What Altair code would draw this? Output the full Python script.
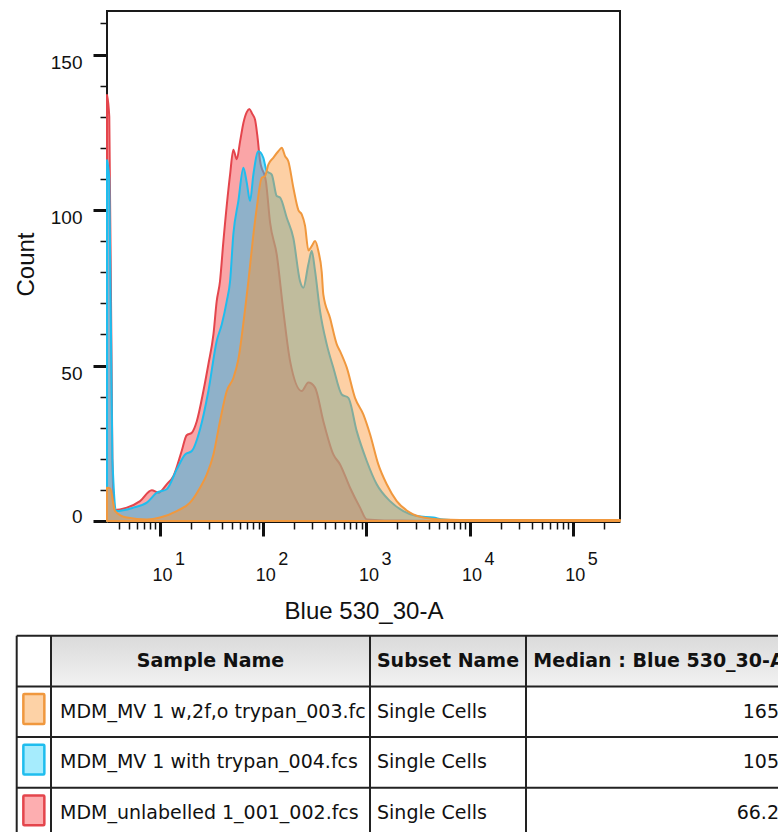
import altair as alt
import pandas as pd

# ---------------- data ----------------
SAMPLE_NAMES = [
    "MDM_MV 1 w,2f,o trypan_003.fcs",
    "MDM_MV 1 with trypan_004.fcs",
    "MDM_unlabelled 1_001_002.fcs",
]
SUBSET_NAMES = ["Single Cells", "Single Cells", "Single Cells"]
MEDIANS = ["165", "105", "66.2"]
HEADERS = ["Sample Name", "Subset Name", "Median : Blue 530_30-A"]

# histogram traces: channel value (Blue 530_30-A) and event count
ORANGE_X = [3.06, 3.28, 3.66, 4.76, 7.43, 10.0, 14.5, 19.5, 24.4, 28.4, 32.9, 38.1,
            44.3, 51.3, 57.4, 66.6, 71.7, 80.2, 86.5, 96.7, 104, 112, 125, 140, 151,
            163, 175, 196, 219, 236, 254, 274, 295, 318, 342, 369, 382, 444, 516,
            555, 645, 775, 933, 1084, 1304, 1573, 1966, 2646, 3560, 5166, 12600,
            286700]
ORANGE_Y = [10.7, 10.5, 3.2, 1.1, 0.5, 1.1, 3.2, 5.9, 10.7, 15.0, 21.4, 32.1,
            41.8, 46.0, 52.0, 68.0, 77.0, 92.0, 100.7, 110.4, 110.9, 114.6, 116.8,
            118.9, 120.0, 117.3, 115.7, 107.1, 100.0, 98.6, 95.0, 87.0, 88.4, 90.0,
            86.8, 80.0, 72.9, 65.3, 56.8, 54.6, 49.3, 39.6, 34.3, 27.9, 18.2, 11.8,
            6.4, 2.7, 1.1, 0.5, 0.3, 0.3]

BLUE_X = [3.06, 3.22, 3.45, 3.8, 5.51, 7.43, 9.29, 11.6, 14.5, 17.5, 20.3, 24.4,
          29.4, 35.4, 39.6, 44.3, 47.7, 51.3, 57.4, 64.2, 69.2, 74.5, 80.2, 89.7,
          100.2, 108.1, 120.9, 135.1, 145.5, 168.9, 195.7, 227.3, 244.7, 273.5,
          295.1, 317.7, 355.2, 412.5, 477.9, 576.4, 667.9, 805.4, 1007, 1258, 1693,
          2279, 3072, 4449, 5562, 12600, 286700]
BLUE_Y = [116, 110, 20, 3.2, 4.3, 5.9, 9.1, 10.2, 16.6, 21.4, 22.5, 29.5,
          41.8, 57.9, 63.2, 70.7, 77.1, 92.2, 102.9, 113.6, 108.8, 102.9, 111.4,
          118.9, 116.8, 112.5, 111.4, 104.5, 104.0, 97.5, 91.0, 77.1, 75.0, 82.5,
          86.8, 80.4, 67.5, 56.8, 49.3, 40.7, 39.6, 28.9, 19.3, 11.8, 6.4,
          3.2, 1.6, 1.1, 0.5, 0.0, 0.0]

RED_X = [3.06, 3.22, 3.45, 3.6, 4.76, 6.40, 8.31, 9.63, 11.6, 13.5, 16.2, 18.1,
         20.3, 22.7, 26.3, 29.4, 32.9, 35.4, 38.1, 41.1, 47.7, 51.3, 55.4, 59.6,
         64.2, 69.2, 73.3, 78.0, 83.3, 87.6, 93.0, 106.4, 116.4, 135.1, 156.6,
         181.8, 236.1, 273.5, 317.7, 382.3, 477.9, 554.9, 693.7, 867, 1007, 1500,
         3000, 4500, 286700]
RED_Y = [137, 130, 20, 3.5, 4.3, 6.4, 9.9, 9.1, 11.8, 14.5, 22.5, 27.6,
         28.4, 32.1, 41.8, 50.4, 60.0, 70.7, 77.1, 90.0, 111.4, 119.4, 116.3, 122.0,
         128.0, 131.5, 132.5, 131.0, 129.0, 124.0, 116.0, 109.0, 96.0, 85.7, 67.5,
         51.5, 41.8, 44.5, 42.9, 32.1, 21.4, 18.2, 10.7, 4.3, 0.5, 0.2,
         0.1, 0.0, 0.0]

DECADES = [10, 100, 1000, 10000, 100000]
EXPONENTS = ["1", "2", "3", "4", "5"]
MINOR_TICKS = [4, 5, 6, 7, 8, 9,
               20, 30, 40, 50, 60, 70, 80, 90,
               200, 300, 400, 500, 600, 700, 800, 900,
               2000, 3000, 4000, 5000, 6000, 7000, 8000, 9000,
               20000, 30000, 40000, 50000, 60000, 70000, 80000, 90000,
               200000]
Y_TICKS = [0, 50, 100, 150]
Y_MINOR = [0, 10, 20, 30, 40, 50, 60, 70, 80, 90, 100, 110, 120, 130, 140, 150, 160]

# ---------------- layout & style ----------------
W, H = 778, 832
PLOT_L, PLOT_R, PLOT_T, PLOT_B = 107, 620, 11, 521
X_DOMAIN = [3.06, 286700]
Y_DOMAIN = [0, 164]

COL_EDGES = [16.7, 51, 370, 526, 792]
ROW_TOP, ROW_H = 635.7, 50.7

LINE_COLORS = ["#f0983e", "#1fbdee", "#e4454c"]
FILL_COLORS = ["#fb9737", "#36bce6", "#f54b50"]
FILL_OPACITY = [0.45, 0.55, 0.5]
SWATCH_FILLS = ["#fdd2a6", "#a6ecfd", "#fdaeb0"]

AXIS_FONT = "Liberation Sans"
TABLE_FONT = "DejaVu Sans"
INK = "#111111"

xs = alt.Scale(type="log", domain=X_DOMAIN, range=[PLOT_L, PLOT_R])
ys = alt.Scale(domain=Y_DOMAIN, range=[PLOT_B, PLOT_T])
tx = alt.Scale(domain=[0, W], range=[0, W])
ty = alt.Scale(domain=[0, 4], range=[ROW_TOP, ROW_TOP + 4 * ROW_H])

# ---------------- histogram ----------------
minor_x_axis = alt.Axis(values=MINOR_TICKS, orient="bottom", offset=PLOT_B - H,
                        labels=False, domain=False, grid=False, title=None,
                        tickSize=8, tickWidth=1.5, tickColor=INK)
minor_y_axis = alt.Axis(values=Y_MINOR, orient="left", offset=-PLOT_L,
                        labels=False, domain=False, grid=False, title=None,
                        tickSize=7, tickWidth=1.5, tickColor=INK)

major_x_axis = alt.Axis(
    values=DECADES, orient="bottom", offset=PLOT_B - H, grid=False,
    labelExpr="'10'", tickSize=15, tickWidth=3, tickColor=INK,
    domainColor=INK, domainWidth=3,
    labelFont=AXIS_FONT, labelFontSize=18, labelColor=INK,
    labelBaseline="alphabetic", labelPadding=44, labelOffset=2,
    labelOverlap=False, labelFlush=False,
    title="Blue 530_30-A", titleFont=AXIS_FONT, titleFontSize=24,
    titleFontWeight="normal", titleColor=INK, titleBaseline="alphabetic",
    titleY=97,
)
major_y_axis = alt.Axis(
    values=Y_TICKS, orient="left", offset=-PLOT_L, grid=False,
    tickSize=14, tickWidth=3, tickColor=INK, domainColor=INK, domainWidth=3,
    labelFont=AXIS_FONT, labelFontSize=19, labelColor=INK, labelPadding=11,
    labelBaseline="alphabetic",
    labelOffset={"condition": {"test": "datum.value == 0", "value": 1}, "value": 13.5},
    labelOverlap=False, labelFlush=False,
    title="Count", titleFont=AXIS_FONT, titleFontSize=24, titleFontWeight="normal",
    titleColor=INK, titleAngle=270, titleAlign="center", titleBaseline="alphabetic",
    titleX=33 - PLOT_L, titleY=264,
)

frame = alt.Chart(pd.DataFrame({
    "x0": [X_DOMAIN[0]], "x1": [X_DOMAIN[1]], "y0": [Y_DOMAIN[0]], "y1": [Y_DOMAIN[1]],
})).mark_rect(fill="white", stroke="#1a1a1a", strokeWidth=2).encode(
    x=alt.X("x0:Q", scale=xs, axis=minor_x_axis),
    x2="x1:Q",
    y=alt.Y("y0:Q", scale=ys, axis=minor_y_axis),
    y2="y1:Q",
)


def trace(xv, yv, i, x_axis=None, y_axis=None):
    df = pd.DataFrame({"value": xv, "count": yv})
    assert len(xv) == len(yv)
    return alt.Chart(df).mark_area(
        interpolate="monotone", clip=True,
        fill=FILL_COLORS[i], fillOpacity=FILL_OPACITY[i],
        stroke=LINE_COLORS[i], strokeWidth=2, strokeJoin="round",
    ).encode(
        x=alt.X("value:Q", scale=xs, axis=x_axis),
        y=alt.Y("count:Q", scale=ys, axis=y_axis, stack=None),
    )


red_area = trace(RED_X, RED_Y, 2, major_x_axis, major_y_axis)
blue_area = trace(BLUE_X, BLUE_Y, 1)
orange_area = trace(ORANGE_X, ORANGE_Y, 0)

exponents = alt.Chart(pd.DataFrame({"value": DECADES, "exp": EXPONENTS})).mark_text(
    align="center", baseline="alphabetic", dx=20, font=AXIS_FONT, fontSize=18, color=INK,
).encode(
    x=alt.X("value:Q", scale=xs, axis=None),
    y=alt.value(565),
    text="exp:N",
)

# ---------------- statistics table ----------------
n_cols = len(COL_EDGES) - 1
header_cells = pd.DataFrame({
    "x0": COL_EDGES[1:n_cols], "x1": COL_EDGES[2:],
    "y0": [0] * (n_cols - 1), "y1": [1] * (n_cols - 1),
    "label": HEADERS,
    "xc": [(COL_EDGES[c] + COL_EDGES[c + 1]) / 2 for c in range(1, n_cols)],
    "yc": [0.5] * (n_cols - 1),
})
header_bg = alt.Chart(header_cells).mark_rect(
    fill=alt.Gradient(gradient="linear",
                      stops=[alt.GradientStop(color="#dadada", offset=0),
                             alt.GradientStop(color="#f2f2f2", offset=1)],
                      x1=0, x2=0, y1=0, y2=1),
).encode(
    x=alt.X("x0:Q", scale=tx, axis=None), x2="x1:Q",
    y=alt.Y("y0:Q", scale=ty, axis=None), y2="y1:Q",
)
header_text = alt.Chart(header_cells).mark_text(
    align="center", baseline="middle", font=TABLE_FONT, fontSize=19,
    fontWeight="bold", color=INK,
).encode(
    x=alt.X("xc:Q", scale=tx, axis=None),
    y=alt.Y("yc:Q", scale=ty, axis=None),
    text="label:N",
)

h_lines = pd.DataFrame({
    "x0": [COL_EDGES[0]] * 5, "x1": [COL_EDGES[-1]] * 5,
    "y0": [0, 1, 2, 3, 4], "y1": [0, 1, 2, 3, 4],
})
v_lines = pd.DataFrame({
    "x0": COL_EDGES, "x1": COL_EDGES,
    "y0": [0] * len(COL_EDGES), "y1": [4] * len(COL_EDGES),
})
grid_lines = alt.Chart(pd.concat([h_lines, v_lines], ignore_index=True)).mark_rule(
    color="#222222", strokeWidth=2,
).encode(
    x=alt.X("x0:Q", scale=tx, axis=None), x2="x1:Q",
    y=alt.Y("y0:Q", scale=ty, axis=None), y2="y1:Q",
)

rows = pd.DataFrame({
    "sample": SAMPLE_NAMES,
    "subset": SUBSET_NAMES,
    "median": MEDIANS,
    "row": [1, 2, 3],
})
rows["yc"] = rows["row"] + 0.5
rows["sw_top"] = rows["row"] + 0.15
rows["sw_bot"] = rows["row"] + 0.74
swatch_c = (COL_EDGES[0] + COL_EDGES[1]) / 2
rows["sw_x0"] = swatch_c - 10.5
rows["sw_x1"] = swatch_c + 10.5
rows["name_x"] = COL_EDGES[1]
rows["subset_x"] = COL_EDGES[2]
rows["median_x"] = COL_EDGES[4]

swatches = alt.Chart(rows).mark_rect(strokeWidth=2.5, cornerRadius=1).encode(
    x=alt.X("sw_x0:Q", scale=tx, axis=None), x2="sw_x1:Q",
    y=alt.Y("sw_top:Q", scale=ty, axis=None), y2="sw_bot:Q",
    fill=alt.Fill("sample:N", scale=alt.Scale(domain=SAMPLE_NAMES, range=SWATCH_FILLS), legend=None),
    stroke=alt.Stroke("sample:N", scale=alt.Scale(domain=SAMPLE_NAMES, range=LINE_COLORS), legend=None),
)

# long file names are cut at the column border without an ellipsis mark
name_text = alt.Chart(rows).mark_text(
    align="left", baseline="middle", dx=9, font=TABLE_FONT, fontSize=19, color=INK,
    limit=COL_EDGES[2] - COL_EDGES[1] - 10, ellipsis="\u200b",
).encode(
    x=alt.X("name_x:Q", scale=tx, axis=None),
    y=alt.Y("yc:Q", scale=ty, axis=None),
    text="sample:N",
)
subset_text = alt.Chart(rows).mark_text(
    align="left", baseline="middle", dx=7, font=TABLE_FONT, fontSize=19, color=INK,
).encode(
    x=alt.X("subset_x:Q", scale=tx, axis=None),
    y=alt.Y("yc:Q", scale=ty, axis=None),
    text="subset:N",
)
median_text = alt.Chart(rows).mark_text(
    align="right", baseline="middle", dx=-13, font=TABLE_FONT, fontSize=19, color=INK,
).encode(
    x=alt.X("median_x:Q", scale=tx, axis=None),
    y=alt.Y("yc:Q", scale=ty, axis=None),
    text="median:N",
)

chart = alt.layer(
    frame, red_area, blue_area, orange_area, exponents,
    header_bg, grid_lines, swatches, header_text, name_text, subset_text, median_text,
).resolve_scale(
    x="independent", y="independent",
).properties(
    width=W, height=H, padding=0, background="white",
    autosize=alt.AutoSizeParams(type="none"),
).configure_view(strokeWidth=0)

chart.save("out.html", embed_options={"renderer": "svg", "actions": False})
